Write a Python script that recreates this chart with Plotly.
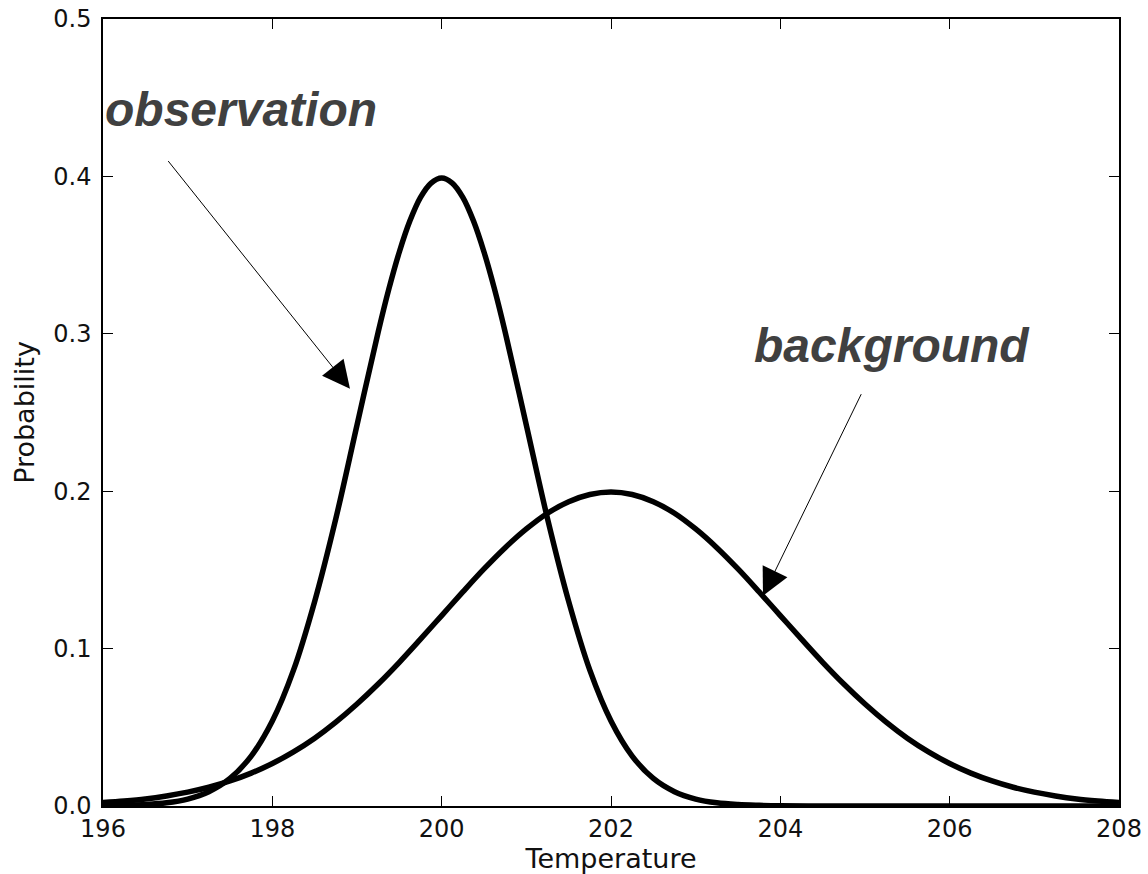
import plotly.graph_objects as go

# Data
obs_x = [196, 196.25, 196.5, 196.75, 197, 197.25, 197.5, 197.75, 198, 198.25, 198.5, 198.75, 199, 199.25,
         199.375, 199.5, 199.625, 199.75, 199.875, 200, 200.125, 200.25, 200.375, 200.5, 200.625, 200.75,
         201, 201.25, 201.5, 201.75, 202, 202.25, 202.5, 202.75, 203, 203.25, 203.5, 203.75,
         204, 204.5, 205, 205.5, 206, 206.5, 207, 207.5, 208]
obs_y = [0.0001, 0.0004, 0.0009, 0.0020, 0.0044, 0.0091, 0.0175, 0.0317, 0.054, 0.0863, 0.130, 0.1826, 0.242, 0.3011,
         0.3282, 0.352, 0.3718, 0.3867, 0.3958, 0.399, 0.3958, 0.3867, 0.3718, 0.352, 0.3282, 0.3011,
         0.242, 0.1826, 0.130, 0.0863, 0.054, 0.0317, 0.0175, 0.0091, 0.0044, 0.0020, 0.0009, 0.0004,
         0.0001, 0.0, 0.0, 0.0, 0.0, 0.0, 0.0, 0.0, 0.0]

bg_x = [196, 196.25, 196.5, 196.75, 197, 197.25, 197.5, 197.75, 198, 198.25, 198.5, 198.75, 199, 199.25, 199.5, 199.75,
        200, 200.25, 200.5, 200.75, 201, 201.25, 201.5, 201.75, 202, 202.25, 202.5, 202.75, 203, 203.25, 203.5, 203.75,
        204, 204.25, 204.5, 204.75, 205, 205.25, 205.5, 205.75, 206, 206.25, 206.5, 206.75, 207, 207.25, 207.5, 207.75, 208]
bg_y = [0.0022, 0.0032, 0.0045, 0.0064, 0.0088, 0.0119, 0.0159, 0.0209, 0.027, 0.0344, 0.0431, 0.0533, 0.0648, 0.0775, 0.0913, 0.1060,
        0.121, 0.1360, 0.1506, 0.1641, 0.176, 0.1860, 0.1933, 0.1979, 0.1995, 0.1979, 0.1933, 0.1860, 0.176, 0.1641, 0.1506, 0.1360,
        0.121, 0.1060, 0.0913, 0.0775, 0.0648, 0.0533, 0.0431, 0.0344, 0.027, 0.0209, 0.0159, 0.0119, 0.0088, 0.0064, 0.0045, 0.0032, 0.0022]

x_ticks = [196, 198, 200, 202, 204, 206, 208]
y_ticks = [0.0, 0.1, 0.2, 0.3, 0.4, 0.5]

fig = go.Figure()
fig.add_trace(go.Scatter(x=obs_x, y=obs_y, mode="lines",
                         line=dict(color="black", width=5.5, shape="spline", smoothing=1.0, simplify=False),
                         showlegend=False, hoverinfo="skip"))
fig.add_trace(go.Scatter(x=bg_x, y=bg_y, mode="lines",
                         line=dict(color="black", width=5.5, shape="spline", smoothing=1.0, simplify=False),
                         showlegend=False, hoverinfo="skip"))

ann_font = dict(family="Liberation Sans, Arial, sans-serif", size=48, color="#404040", weight="bold", style="italic")

fig.add_annotation(x=196.0, y=0.4425, xref="x", yref="y", text="observation", showarrow=False,
                   xanchor="left", yanchor="middle", font=ann_font)
fig.add_annotation(x=203.665, y=0.2924, xref="x", yref="y", text="background", showarrow=False,
                   xanchor="left", yanchor="middle", font=ann_font)

fig.add_annotation(x=198.917, y=0.2651, ax=196.756, ay=0.4107, xref="x", yref="y", axref="x", ayref="y",
                   text="", showarrow=True, arrowhead=2, arrowsize=5.5, arrowwidth=1, arrowcolor="black")
fig.add_annotation(x=203.795, y=0.1335, ax=204.964, ay=0.2626, xref="x", yref="y", axref="x", ayref="y",
                   text="", showarrow=True, arrowhead=2, arrowsize=5.5, arrowwidth=1, arrowcolor="black")

tick_font = dict(family="DejaVu Sans", size=24, color="#111111")
title_font = dict(family="DejaVu Sans", size=27, color="#111111")
axis_common = dict(showgrid=False, zeroline=False, showline=True, linecolor="black", linewidth=1.5,
                   mirror="ticks", ticks="inside", ticklen=10, tickwidth=1, tickcolor="black",
                   tickfont=tick_font, automargin=False)

fig.update_xaxes(range=[196, 208], tickvals=x_ticks, ticktext=[str(v) for v in x_ticks],
                 title=dict(text="Temperature", font=title_font, standoff=4),
                 **axis_common)
fig.update_yaxes(range=[0, 0.5], tickvals=y_ticks, ticktext=[f"{v:.1f}" for v in y_ticks],
                 ticklabelstandoff=5,
                 title=dict(text="Probability", font=title_font, standoff=11),
                 **axis_common)

fig.update_layout(width=1148, height=874, margin=dict(l=103, r=29, t=19, b=68),
                  plot_bgcolor="white", paper_bgcolor="white")

fig.write_html("out.html")
